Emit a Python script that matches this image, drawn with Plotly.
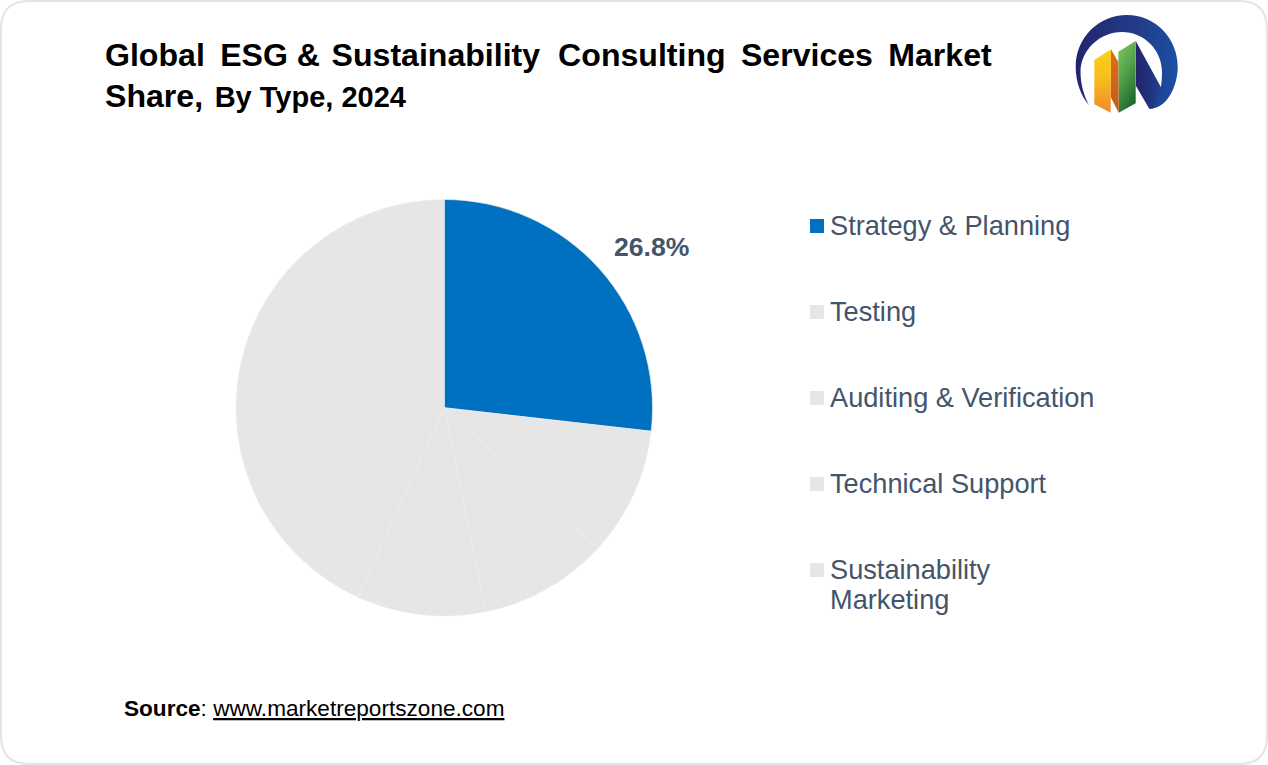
import base64
import plotly.graph_objects as go

W = 1268
H = 765

labels = ["Strategy & Planning", "Testing", "Auditing & Verification", "Technical Support", "Sustainability<br>Marketing"]
values = [26.8, 10.0, 10.0, 10.0, 43.2]
colors = ["#0070c0", "#e6e6e6", "#e6e6e6", "#e6e6e6", "#e6e6e6"]
legend_y = [226, 312, 398, 484, 570]

FONT = "Liberation Sans"
SLATE = "#44546a"
THIN = "\u2009"
HAIR = "\u200a"


def px(x):
    return x / W


def py(y):
    return 1 - y / H


logo_svg = """<svg xmlns="http://www.w3.org/2000/svg" viewBox="1070 10 115 108" width="460" height="432">
<defs>
<linearGradient id="ring" gradientUnits="userSpaceOnUse" x1="1076" y1="0" x2="1178" y2="0"><stop offset="0" stop-color="#24246e"/><stop offset="0.55" stop-color="#233a86"/><stop offset="1" stop-color="#1a4fa3"/></linearGradient>
<linearGradient id="navy" gradientUnits="userSpaceOnUse" x1="1136" y1="0" x2="1166" y2="0"><stop offset="0" stop-color="#23246c"/><stop offset="0.5" stop-color="#223480"/><stop offset="1" stop-color="#1e4a9c"/></linearGradient>
<linearGradient id="green" x1="0.2" y1="0" x2="0.6" y2="1"><stop offset="0" stop-color="#7cc55e"/><stop offset="0.45" stop-color="#53a24a"/><stop offset="1" stop-color="#1c652d"/></linearGradient>
<linearGradient id="yellow" x1="0" y1="0" x2="0" y2="1"><stop offset="0" stop-color="#fdd116"/><stop offset="0.45" stop-color="#f9bd1f"/><stop offset="1" stop-color="#ee8a2c"/></linearGradient>
<linearGradient id="side" x1="0" y1="0" x2="0" y2="1"><stop offset="0" stop-color="#d9701f"/><stop offset="1" stop-color="#c4591f"/></linearGradient>
</defs>
<path fill="url(#ring)" d="M1089 105 C1081 96 1075.7 82 1075.7 66.7 C1075.7 38 1098.5 15 1127 15 C1155 15 1177.7 38 1177.7 66.7 C1177.7 85 1168 108.7 1149.3 108.7 L1160.7 88.3 C1161.6 83 1162 77 1162 72 C1162 50 1144 32 1122 32 C1100 32 1080.5 50 1080.5 72 C1080.5 84 1084 96 1089 105 Z"/>
<path fill="url(#navy)" d="M1135.7 41 L1161.5 88.3 L1153 108.5 L1149.3 108.7 L1136 86 Z"/>
<path fill="url(#green)" d="M1118.3 51.7 L1135.7 41 L1135.7 103.3 L1118.7 112.7 Z"/>
<path fill="url(#side)" d="M1111 49.3 L1118.3 62 L1118.7 112.7 L1110.7 97 Z"/>
<path fill="url(#yellow)" d="M1094.3 60 L1111 49.3 L1110.7 112.7 L1094.3 104.3 Z"/>
</svg>"""
logo_src = "data:image/svg+xml;base64," + base64.b64encode(logo_svg.encode()).decode()

fig = go.Figure(
    go.Pie(
        labels=[l.replace("<br>", " ") for l in labels],
        values=values,
        sort=False,
        direction="clockwise",
        rotation=0,
        textinfo="none",
        hoverinfo="label+percent",
        marker=dict(colors=colors, line=dict(color="#efefef", width=0.6)),
        domain=dict(x=[px(236), px(652.5)], y=[py(616), py(199.5)]),
        showlegend=False,
    )
)

annotations = []


def add_text(x, y, text, size, color="#000000", yanchor="middle"):
    annotations.append(
        dict(
            x=px(x),
            y=py(y),
            xref="paper",
            yref="paper",
            xanchor="left",
            yanchor=yanchor,
            align="left",
            showarrow=False,
            borderpad=0,
            text=text,
            font=dict(family=FONT, size=size, color=color),
        )
    )


title_1 = (
    f"Global {THIN}ESG &amp; {HAIR}Sustainability {THIN}{HAIR}"
    f"Consulting {THIN}Services {THIN}Market"
)
add_text(104, 55.5, f"<b>{title_1}</b>", 32.1)
add_text(104, 95.5, f"<b>Share,{HAIR} <span style='font-size:29px'>By Type, 2024</span></b>", 32.1)
add_text(613, 247, "<b>%.1f%%</b>" % values[0], 26.6, SLATE)
for i, label in enumerate(labels):
    for j, line in enumerate(label.split("<br>")):
        add_text(829, legend_y[i] - 1 + 30 * j, line, 27.2, SLATE)
add_text(123, 708, "<b>Source</b>: <u>www.marketreportszone.com</u>", 22.6)

shapes = []
x0, y0, x1, y1, r = 1, 1, W - 1, H - 1, 28
frame = (
    f"M {px(x0 + r)} {py(y0)} L {px(x1 - r)} {py(y0)} Q {px(x1)} {py(y0)} {px(x1)} {py(y0 + r)} "
    f"L {px(x1)} {py(y1 - r)} Q {px(x1)} {py(y1)} {px(x1 - r)} {py(y1)} "
    f"L {px(x0 + r)} {py(y1)} Q {px(x0)} {py(y1)} {px(x0)} {py(y1 - r)} "
    f"L {px(x0)} {py(y0 + r)} Q {px(x0)} {py(y0)} {px(x0 + r)} {py(y0)} Z"
)
shapes.append(dict(type="path", xref="paper", yref="paper", path=frame, line=dict(color="#e4e4e4", width=2)))
for i, c in enumerate(colors):
    shapes.append(
        dict(
            type="rect",
            xref="paper",
            yref="paper",
            x0=px(810),
            x1=px(824),
            y0=py(legend_y[i] - 7),
            y1=py(legend_y[i] + 7),
            fillcolor=c,
            line=dict(width=0),
        )
    )

fig.update_layout(
    width=W,
    height=H,
    margin=dict(l=0, r=0, t=0, b=0),
    paper_bgcolor="white",
    plot_bgcolor="white",
    annotations=annotations,
    shapes=shapes,
    images=[
        dict(
            source=logo_src,
            xref="paper",
            yref="paper",
            x=px(1070),
            y=py(10),
            sizex=115 / W,
            sizey=108 / H,
            xanchor="left",
            yanchor="top",
            sizing="stretch",
            layer="above",
        )
    ],
)

fig.write_html(
    "out.html",
    config={"displayModeBar": False},
    post_script="document.body.style.margin='0';document.body.style.overflow='hidden';",
)
